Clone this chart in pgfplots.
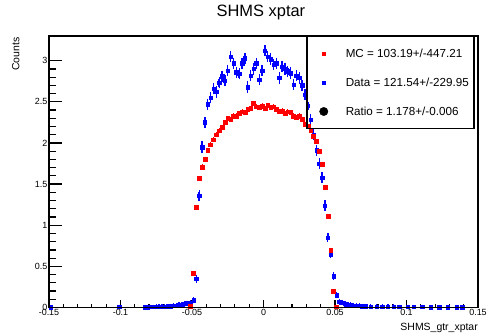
\documentclass[border=0pt]{standalone}
\usepackage{fontspec}
\setmainfont{Liberation Sans}
\usepackage{pgfplots}
\pgfplotsset{compat=1.18}
\usepackage{pgfplotstable}

\pgfplotstableread{
x y e
-0.051 0.02 0.005
-0.049 0.42 0.012
-0.047 1.22 0.015
-0.045 1.57 0.015
-0.043 1.71 0.015
-0.041 1.80 0.015
-0.039 1.91 0.015
-0.037 1.98 0.015
-0.035 2.04 0.015
-0.033 2.10 0.015
-0.031 2.15 0.015
-0.029 2.19 0.015
-0.027 2.25 0.015
-0.025 2.30 0.015
-0.023 2.29 0.015
-0.021 2.33 0.015
-0.019 2.33 0.015
-0.017 2.36 0.015
-0.015 2.38 0.015
-0.013 2.37 0.015
-0.011 2.41 0.015
-0.009 2.42 0.015
-0.007 2.48 0.015
-0.005 2.44 0.015
-0.003 2.43 0.015
-0.001 2.45 0.015
0.001 2.42 0.015
0.003 2.46 0.015
0.005 2.43 0.015
0.007 2.44 0.015
0.009 2.41 0.015
0.011 2.38 0.015
0.013 2.39 0.015
0.015 2.36 0.015
0.017 2.38 0.015
0.019 2.37 0.015
0.021 2.33 0.015
0.023 2.31 0.015
0.025 2.33 0.015
0.027 2.29 0.015
0.029 2.23 0.015
0.031 2.20 0.015
0.033 2.15 0.015
0.035 2.08 0.015
0.037 2.02 0.015
0.039 1.90 0.015
0.041 1.74 0.015
0.043 1.46 0.015
0.045 1.11 0.015
0.047 0.70 0.012
0.049 0.20 0.008
0.051 0.01 0.003
}\mctable

\pgfplotstableread{
x y e
-0.149 0.003 0.003
-0.101 0.008 0.005
-0.083 0.005 0.004
-0.081 0.006 0.004
-0.079 0.008 0.005
-0.077 0.008 0.005
-0.075 0.010 0.005
-0.073 0.010 0.005
-0.071 0.012 0.006
-0.069 0.012 0.006
-0.067 0.015 0.006
-0.065 0.018 0.007
-0.063 0.022 0.007
-0.061 0.025 0.008
-0.059 0.030 0.008
-0.057 0.035 0.009
-0.055 0.045 0.010
-0.053 0.050 0.010
-0.051 0.060 0.011
-0.049 0.090 0.013
-0.047 0.35 0.025
-0.045 1.36 0.040
-0.043 1.95 0.045
-0.041 2.25 0.045
-0.039 2.47 0.045
-0.037 2.55 0.045
-0.035 2.66 0.045
-0.033 2.62 0.045
-0.031 2.73 0.045
-0.029 2.81 0.045
-0.027 2.76 0.045
-0.025 2.88 0.045
-0.023 3.05 0.045
-0.021 2.97 0.045
-0.019 2.86 0.045
-0.017 2.84 0.045
-0.015 2.97 0.045
-0.013 3.03 0.045
-0.011 2.68 0.045
-0.009 2.82 0.045
-0.007 2.90 0.045
-0.005 2.97 0.045
-0.003 2.77 0.045
-0.001 2.88 0.045
0.001 3.12 0.045
0.003 3.05 0.045
0.005 3.02 0.045
0.007 2.95 0.045
0.009 2.97 0.045
0.011 2.79 0.045
0.013 2.93 0.045
0.015 2.90 0.045
0.017 2.87 0.045
0.019 2.85 0.045
0.021 2.71 0.045
0.023 2.82 0.045
0.025 2.79 0.045
0.027 2.70 0.045
0.029 2.59 0.045
0.031 2.45 0.045
0.033 2.28 0.045
0.035 2.10 0.045
0.037 1.91 0.045
0.039 1.75 0.045
0.041 1.58 0.040
0.043 1.24 0.040
0.045 0.85 0.035
0.047 0.65 0.030
0.049 0.38 0.025
0.051 0.15 0.015
0.053 0.070 0.012
0.055 0.060 0.011
0.057 0.045 0.010
0.059 0.035 0.009
0.061 0.030 0.008
0.063 0.025 0.008
0.065 0.020 0.007
0.067 0.020 0.007
0.069 0.018 0.007
0.071 0.015 0.006
0.075 0.013 0.006
0.079 0.012 0.006
0.083 0.010 0.005
0.087 0.010 0.005
0.091 0.009 0.005
0.095 0.008 0.005
0.101 0.008 0.005
0.105 0.007 0.004
0.111 0.007 0.004
0.117 0.006 0.004
0.123 0.006 0.004
0.129 0.005 0.004
0.135 0.005 0.004
0.139 0.004 0.003
}\datatable

\pgfplotsset{
  rootframe/.style={
    scale only axis, width=429bp, height=271.5bp,
    xmin=-0.15, xmax=0.15, ymin=0, ymax=3.3,
    axis line style={line width=1.5bp},
    tick pos=left, tick align=inside,
    every tick/.style={line width=1.2bp, black},
    /pgf/number format/assume math mode=true,
    tick label style={font=\fontsize{9}{10}\selectfont, inner sep=1.5bp},
  }
}

\begin{document}
\begin{tikzpicture}
\begin{axis}[
  rootframe,
  major tick length=8bp, minor tick length=4bp,
  xtick={-0.15,-0.1,-0.05,0,0.05,0.1,0.15},
  xticklabels={-0.15,-0.1,-0.05,0,0.05,0.1,0.15},
  minor x tick num=4,
  ytick=\empty,
  title={SHMS xptar},
  title style={at={(axis description cs:0.494,1.0497)}, anchor=base, inner sep=0pt, font=\fontsize{16.5}{18}\selectfont},
  xlabel={SHMS\_gtr\_xptar},
  xlabel style={at={(axis description cs:1,-0.0829)}, anchor=base east, inner sep=0pt, font=\fontsize{10.5}{12}\selectfont},
  ylabel={Counts},
  ylabel style={at={(axis description cs:-0.0692,0.995)}, anchor=base east, inner sep=0pt, font=\fontsize{10.5}{12}\selectfont},
  legend image code/.code={\path[draw=none,fill=none] (0bp,0bp) -- (34bp,0bp); \draw[mark repeat=2,mark phase=2,#1] plot coordinates {(2bp,0bp)(12bp,0bp)(22bp,0bp)};},
  legend style={at={(0.5991,1)}, anchor=north west, draw=black, line width=1.5bp, fill=none,
    inner xsep=5bp, inner ysep=11bp, row sep=17.5bp,
    font=\fontsize{11.7}{14}\selectfont,
    nodes={inner sep=0pt, text height=10bp, text depth=1.5bp}},
  legend cell align=left,
]
\addplot[blue, only marks, mark=square*, mark size=1.7bp, forget plot,
  error bars/.cd, y dir=both, y explicit,
  error bar style={line width=1.4bp, blue},
  error mark options={mark size=1.9bp, line width=1.3bp, blue}]
  table[x=x, y=y, y error=e] {\datatable};
\addplot[red, only marks, mark=square*, mark size=1.9bp, forget plot,
  error bars/.cd, y dir=both, y explicit,
  error bar style={line width=0.8bp, red},
  error mark options={mark size=1.2bp, line width=0.8bp, red}]
  table[x=x, y=y, y error=e] {\mctable};
\addlegendimage{only marks, mark=square*, mark size=1.3bp, red, line width=0.4pt}
\addlegendentry{MC = 103.19+/-447.21}
\addlegendimage{only marks, mark=square*, mark size=1.3bp, blue, line width=0.4pt}
\addlegendentry{Data = 121.54+/-229.95}
\addlegendimage{only marks, mark=*, mark size=4.2bp, black, line width=0.4pt}
\addlegendentry{Ratio = 1.178+/-0.006}
\end{axis}
\begin{axis}[
  rootframe,
  major tick length=13bp, minor tick length=6.5bp,
  xtick=\empty,
  ytick={0,0.5,1,1.5,2,2.5,3},
  yticklabels={0,0.5,1,1.5,2,2.5,3},
  minor y tick num=4,
]
\end{axis}
\pgfresetboundingbox
\path[use as bounding box] (current axis.south west) ++(-49bp,-25.5bp) rectangle ([xshift=9bp,yshift=36bp]current axis.north east);
\end{tikzpicture}
\end{document}
